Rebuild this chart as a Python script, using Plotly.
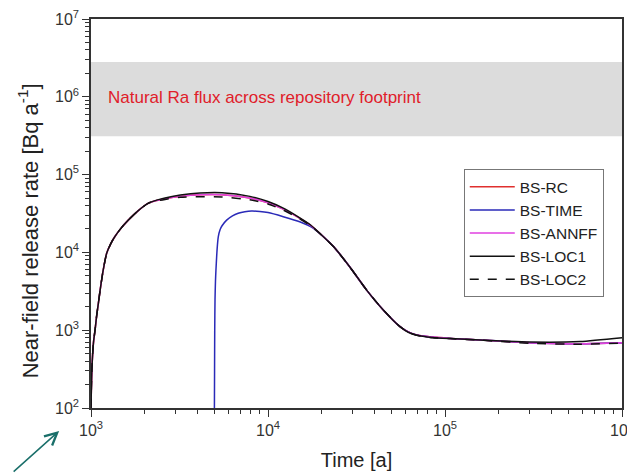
import plotly.graph_objects as go

# ---- data ----
t_common = [1000, 1005, 1012, 1022, 1035, 1054, 1075, 1100, 1135, 1172, 1225, 1290, 1365,
            1480, 1624, 1850, 2100, 2350, 2620, 3200,
            4130, 5500, 7900, 10000, 12200, 14500, 17400, 20500, 23500, 29000, 36000, 44800,
            55700, 62000, 69200, 85000, 107000, 158000, 302000, 580000, 1000000]

loc1 = [100, 180, 320, 500, 730, 1000, 1500, 2200, 3700, 5900, 9700, 12800, 16000,
        20500, 26000, 34500, 42700, 47000, 50000, 54500,
        58000, 58500, 52500, 45000, 37000, 29500, 22500, 16000, 11800, 6500, 3300, 1820,
        1110, 940, 860, 805, 780, 750, 705, 715, 800]

annff = [100, 180, 320, 500, 730, 1000, 1500, 2200, 3700, 5900, 9700, 12800, 16000,
         20500, 26000, 34500, 42700, 46500, 49000, 52500,
         55000, 55000, 50000, 43500, 36000, 29000, 22200, 16000, 11800, 6500, 3300, 1820,
         1110, 950, 870, 815, 785, 750, 690, 670, 690]

rc = [100, 180, 320, 500, 730, 1000, 1500, 2200, 3700, 5900, 9700, 12800, 16000,
      20500, 26000, 34500, 42700, 46500, 49000, 52500,
      55000, 55000, 50000, 43500, 36000, 29000, 22200, 16000, 11800, 6500, 3300, 1820,
      1110, 950, 870, 815, 785, 750, 690, 670, 690]

loc2 = [100, 180, 320, 500, 730, 1000, 1500, 2200, 3700, 5900, 9700, 12800, 16000,
        20500, 26000, 34500, 42700, 46000, 48000, 51000,
        52000, 51500, 47500, 42000, 35000, 28500, 22000, 16000, 11800, 6500, 3300, 1820,
        1110, 945, 860, 800, 780, 745, 680, 660, 680]

t_time = [4980, 4990, 5000, 5020, 5050, 5080, 5130, 5180, 5240, 5360, 5500, 5840, 6300,
          6790, 7400, 8070, 9000, 10000, 12200, 15100, 18000, 20500, 23500, 29000, 36000,
          44800, 55700, 62000, 69200, 85000, 107000, 158000, 302000, 580000, 1000000]
time_vals = [100, 300, 1000, 2500, 4300, 5900, 9000, 12500, 16000, 19500, 22000, 26000, 29500,
             31800, 33300, 34000, 33600, 32500, 28800, 24800, 20500, 16000, 11800, 6500, 3300,
             1820, 1110, 950, 865, 810, 782, 750, 690, 670, 690]

band_low, band_high = 3.1e5, 2.8e6
band_label = "Natural Ra flux across repository footprint"
y_title = "Near-field release rate [Bq a<sup>-1</sup>]"
x_title = "Time [a]"

x_tickvals = [1e3, 1e4, 1e5, 1e6]
x_ticktext = ["10<sup>3</sup>", "10<sup>4</sup>", "10<sup>5</sup>", "10<sup>6</sup>"]
y_tickvals = [1e2, 1e3, 1e4, 1e5, 1e6, 1e7]
y_ticktext = ["10<sup>2</sup>", "10<sup>3</sup>", "10<sup>4</sup>", "10<sup>5</sup>",
              "10<sup>6</sup>", "10<sup>7</sup>"]

FONT = "Liberation Sans, Arial, sans-serif"
LS = "spline"
SM = 0.6

fig = go.Figure()
fig.add_trace(go.Scatter(x=t_common, y=rc, mode="lines", name="BS-RC",
                         line=dict(color="#e0302e", width=1.5, shape=LS, smoothing=SM)))
fig.add_trace(go.Scatter(x=t_time, y=time_vals, mode="lines", name="BS-TIME",
                         line=dict(color="#2a2ab8", width=1.5, shape=LS, smoothing=SM)))
fig.add_trace(go.Scatter(x=t_common, y=annff, mode="lines", name="BS-ANNFF",
                         line=dict(color="#e040e0", width=1.5, shape=LS, smoothing=SM)))
fig.add_trace(go.Scatter(x=t_common, y=loc1, mode="lines", name="BS-LOC1",
                         line=dict(color="#111111", width=1.5, shape=LS, smoothing=SM)))
fig.add_trace(go.Scatter(x=t_common, y=loc2, mode="lines", name="BS-LOC2",
                         line=dict(color="#111111", width=1.5, dash="dash",
                                   shape=LS, smoothing=SM)))

fig.add_shape(type="rect", xref="paper", yref="y", x0=0, x1=1,
              y0=band_low, y1=band_high, fillcolor="#dcdcdc",
              line=dict(width=0), layer="below")

fig.add_annotation(text=band_label, xref="paper", yref="paper", x=0.029, y=0.797,
                   xanchor="left", yanchor="middle", showarrow=False,
                   font=dict(family=FONT, size=17, color="#e0202a"))

# y-axis title (placed as rotated text, slightly below the plot centre like the reference)
fig.add_annotation(text=y_title, xref="paper", yref="paper", x=-0.118, y=0.455,
                   xanchor="center", yanchor="middle", textangle=-90, showarrow=False,
                   font=dict(family=FONT, size=22, color="#222222"))

# teal arrow pointing at the 10^3 tick label
fig.add_annotation(text="", xref="paper", yref="paper", x=-0.060, y=-0.059,
                   ax=-47, ay=42, showarrow=True, arrowhead=5, arrowsize=1.6,
                   arrowwidth=1.5, arrowcolor="#1a6f6a")

axis_common = dict(type="log", showgrid=False, zeroline=False, showline=True,
                   linecolor="#333333", linewidth=1.5, mirror=True, automargin=False,
                   ticks="outside", ticklen=7, tickwidth=1.2, tickcolor="#333333",
                   ticklabeloverflow="allow",
                   tickfont=dict(family=FONT, size=16, color="#333333"),
                   minor=dict(ticks="outside", ticklen=4, tickwidth=1,
                              tickcolor="#333333", dtick="D1", showgrid=False))

fig.update_xaxes(**axis_common, range=[3, 6], tickvals=x_tickvals, ticktext=x_ticktext,
                 title=dict(text=x_title, font=dict(family=FONT, size=20, color="#222222"),
                            standoff=15))
fig.update_yaxes(**axis_common, range=[2, 7], tickvals=y_tickvals, ticktext=y_ticktext)

# the page body adds an 8px offset, so the figure is sized to fill the rest
fig.update_layout(
    width=627, height=466,
    margin=dict(l=83, r=13, t=11, b=66),
    plot_bgcolor="white", paper_bgcolor="white",
    legend=dict(x=0.702, y=0.614, xanchor="left", yanchor="top",
                bgcolor="white", bordercolor="#777777", borderwidth=1,
                font=dict(family=FONT, size=15.5, color="#222222"),
                tracegroupgap=0, itemwidth=45),
    showlegend=True,
)

fig.write_html("out.html")
